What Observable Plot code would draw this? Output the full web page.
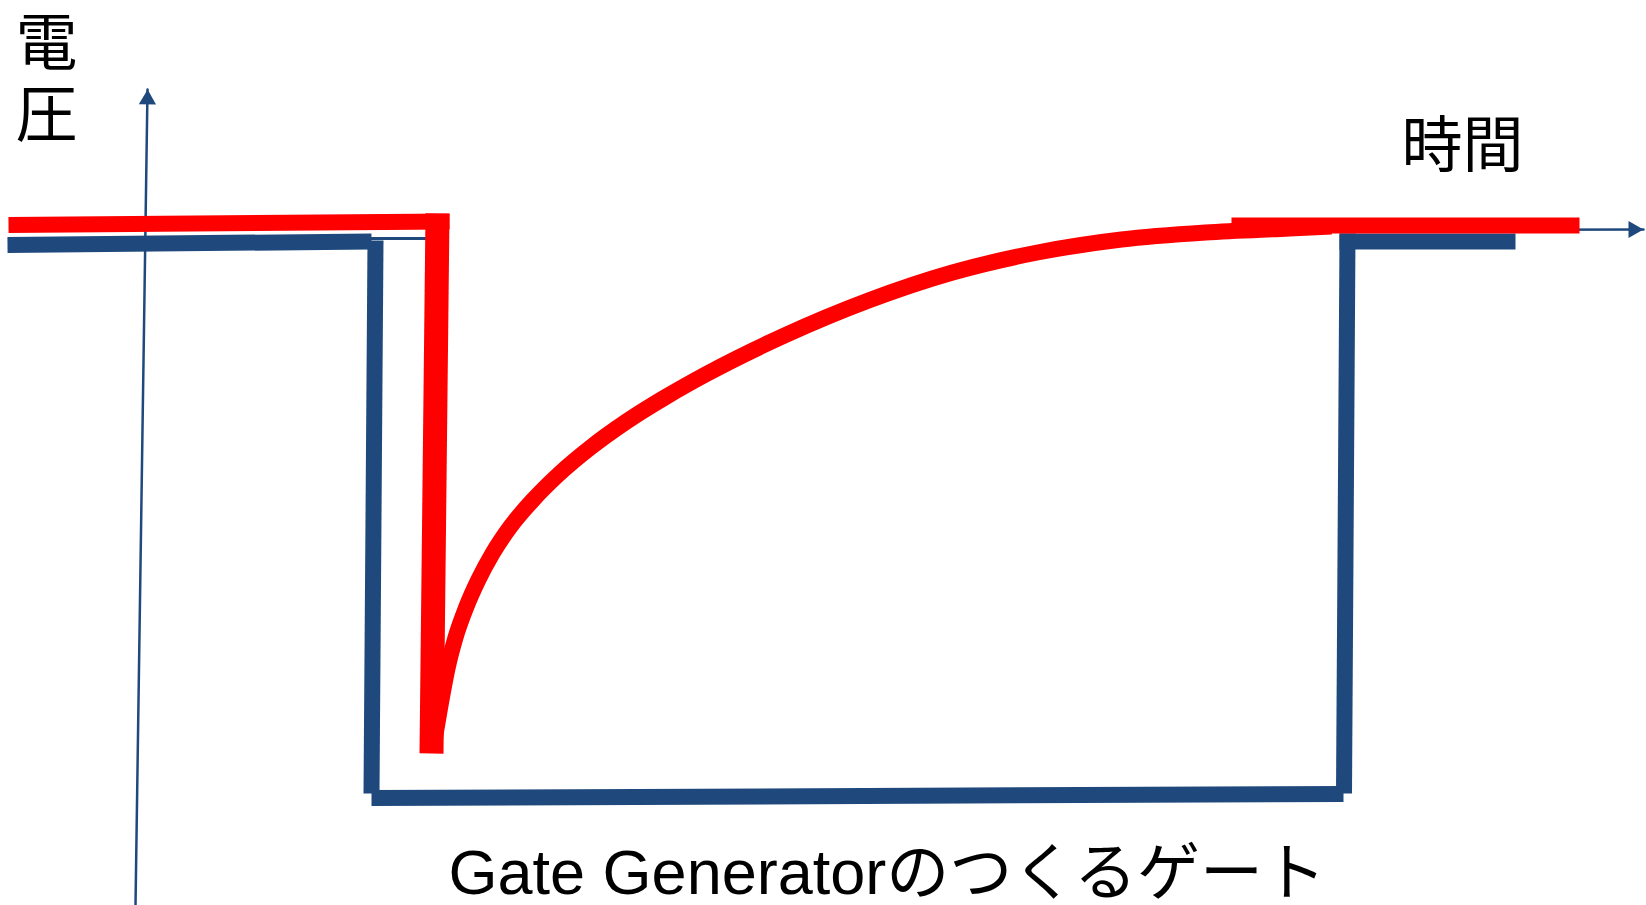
<!DOCTYPE html>
<html>
<head>
<meta charset="utf-8">
<script src="https://cdn.jsdelivr.net/npm/d3@7"></script>
<script src="https://cdn.jsdelivr.net/npm/@observablehq/plot@0.6"></script>
<style>
  html, body { margin: 0; padding: 0; background: #ffffff; }
  #chart svg { display: block; }
</style>
</head>
<body>
<div id="chart"></div>
<script>
// Units: time (x) and voltage (y), arbitrary units.

// Axis labels and caption
const yLabelChars = ["電", "圧"];
const xLabelText = "時間";
const captionText = "Gate Generatorのつくるゲート";

// Axes (thin arrows)
const yAxisTime = [-0.05, 0.07];
const yAxisVolt = [-6.70, 1.46];
const xAxisTime = [11.00, 15.03];
const xAxisVolt = [0.055, 0.06];
const axisStubTime = [2.31, 2.85];
const axisStubVolt = [-0.03, -0.03];

// Gate made by the Gate Generator (blue), drawn as separate strokes
const gateSegment = [0, 0, 1, 1, 2, 2, 3, 3, 4, 4];
const gateTime = [-1.33, 2.31, 2.35, 2.31, 2.31, 12.03, 12.035, 12.07, 11.99, 13.75];
const gateVolt = [-0.095, -0.06, -0.05, -5.58, -5.625, -5.585, -5.58, 0.02, -0.06, -0.06];

// Signal (red): baselines before and after
const baseSegment = [0, 0, 1, 1];
const baseTime = [-1.32, 3.09, 10.91, 14.39];
const baseVolt = [0.105, 0.14, 0.10, 0.10];

// Signal (red): fast falling edge
const edgeTime = [2.97, 2.91];
const edgeVolt = [0.22, -5.18];

// Signal (red): slow recovery
const decayTime = [2.94, 3.00, 3.07, 3.15, 3.26, 3.38, 3.52, 3.70, 3.92, 4.18, 4.50, 4.86, 5.26, 5.65, 6.44, 7.28, 8.12, 8.97, 9.81, 10.65, 11.49, 11.91];
const decayVolt = [-5.05, -4.70, -4.33, -4.02, -3.71, -3.44, -3.18, -2.91, -2.65, -2.39, -2.12, -1.86, -1.61, -1.39, -1.00, -0.65, -0.37, -0.17, -0.04, 0.03, 0.07, 0.09];

const zip = (ts, vs, segs) => ts.map((t, i) => ({t, v: vs[i], s: segs ? segs[i] : 0}));

const gate = zip(gateTime, gateVolt, gateSegment);
const base = zip(baseTime, baseVolt, baseSegment);
const edge = zip(edgeTime, edgeVolt);
const decay = zip(decayTime, decayVolt);
const yAxis = zip(yAxisTime, yAxisVolt);
const xAxis = zip(xAxisTime, xAxisVolt);
const stub = zip(axisStubTime, axisStubVolt);

const BLUE = "#1f497d";
const RED = "#ff0000";
const JP = "'Liberation Sans', 'Noto Sans CJK JP', sans-serif";

const chart = Plot.plot({
  width: 1646,
  height: 905,
  margin: 0,
  x: {domain: [-1.40, 15.06], axis: null},
  y: {domain: [-6.70, 2.35], axis: null},
  style: {background: "#ffffff", overflow: "visible"},
  marks: [
    Plot.line(stub, {x: "t", y: "v", stroke: BLUE, strokeWidth: 3}),
    Plot.line(yAxis, {x: "t", y: "v", stroke: BLUE, strokeWidth: 2.5}),
    Plot.dot(yAxis.slice(-1), {x: "t", y: "v", symbol: "triangle", r: 6.4, fill: BLUE, stroke: "none", rotate: 0.8, dy: 10}),
    Plot.line(xAxis, {x: "t", y: "v", stroke: BLUE, strokeWidth: 2.5}),
    Plot.dot(xAxis.slice(-1), {x: "t", y: "v", symbol: "triangle", r: 6.4, fill: BLUE, stroke: "none", rotate: 90, dx: -10}),
    Plot.line(gate, {x: "t", y: "v", z: "s", stroke: BLUE, strokeWidth: 16, strokeLinecap: "butt", strokeLinejoin: "miter"}),
    Plot.line(base, {x: "t", y: "v", z: "s", stroke: RED, strokeWidth: 16, strokeLinecap: "butt"}),
    Plot.line(decay, {x: "t", y: "v", stroke: RED, strokeWidth: 16, strokeLinecap: "butt", curve: "monotone-x"}),
    Plot.line(edge, {x: "t", y: "v", stroke: RED, strokeWidth: 24, strokeLinecap: "butt"}),
    Plot.text([yLabelChars[0]], {text: d => d, frameAnchor: "top-left", dx: 15, dy: 64, textAnchor: "start", lineAnchor: "bottom", fontSize: 62, fontFamily: JP, fill: "#000"}),
    Plot.text([yLabelChars[1]], {text: d => d, frameAnchor: "top-left", dx: 15, dy: 136, textAnchor: "start", lineAnchor: "bottom", fontSize: 62, fontFamily: JP, fill: "#000"}),
    Plot.text([xLabelText], {text: d => d, frameAnchor: "top-left", dx: 1401, dy: 166, textAnchor: "start", lineAnchor: "bottom", fontSize: 61, fontFamily: JP, fill: "#000"}),
    Plot.text([captionText], {text: d => d, frameAnchor: "bottom-left", dx: 448, dy: -12, textAnchor: "start", lineAnchor: "bottom", fontSize: 63, fontFamily: JP, fill: "#000"})
  ]
});

document.getElementById("chart").appendChild(chart);
</script>
</body>
</html>
